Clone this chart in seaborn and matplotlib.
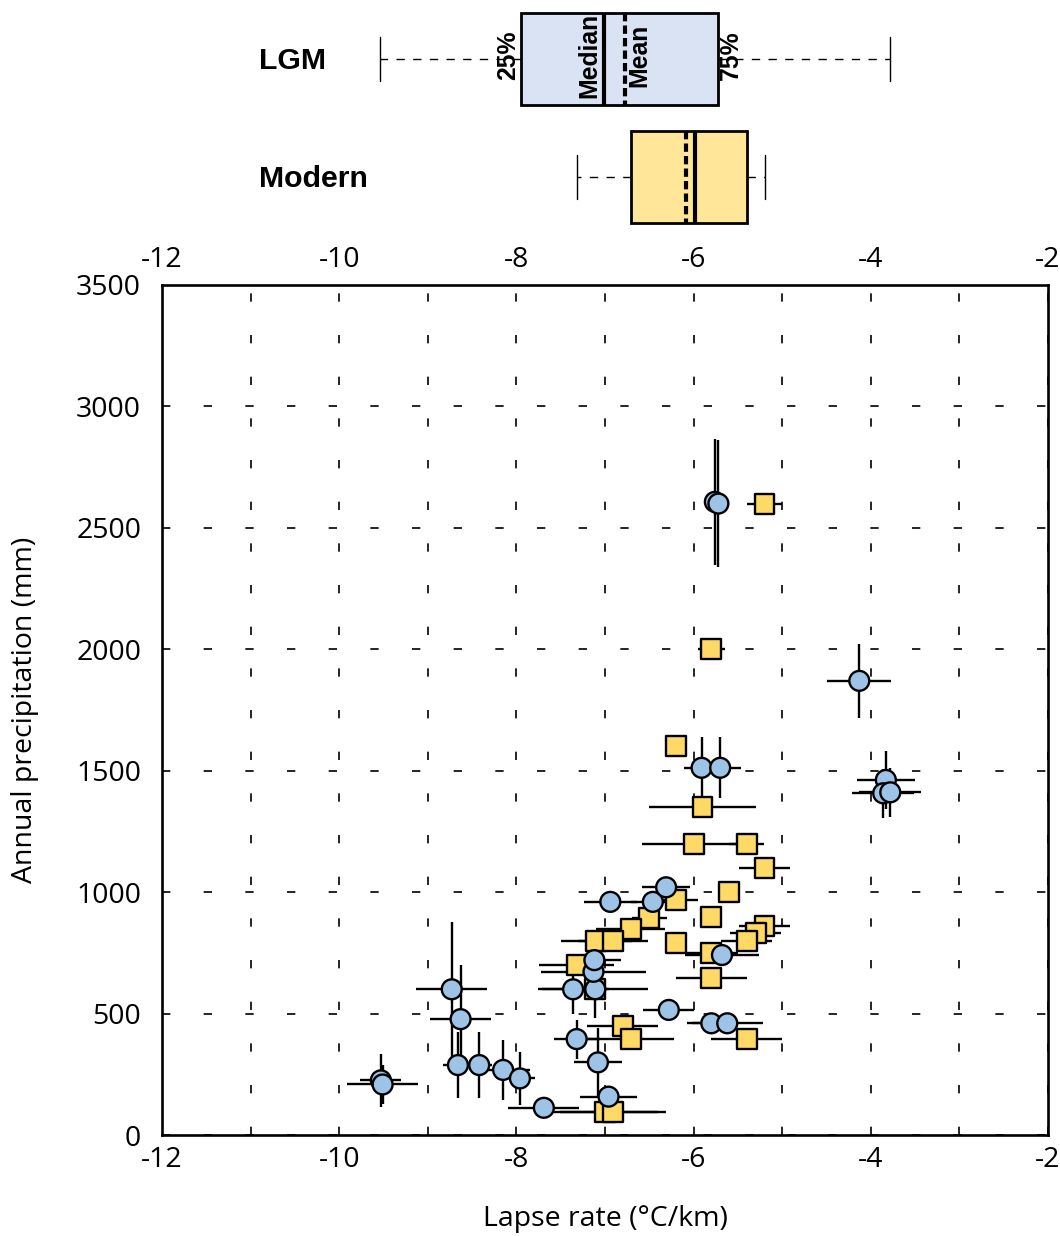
import numpy as np
import pandas as pd
import matplotlib
matplotlib.use('Agg')
import matplotlib.pyplot as plt
import seaborn as sns
from matplotlib import font_manager as fm

# ---------------- data ----------------
# LGM (blue circles)
lgm_lapse = [-9.53, -9.51, -8.73, -8.63, -8.66, -8.42, -8.15, -7.96, -7.69, -7.36,
             -7.11, -7.13, -7.12, -6.94, -6.46, -6.31, -7.32, -7.08, -6.96, -6.28,
             -5.80, -5.62, -5.68, -5.76, -5.72, -4.13, -5.91, -5.70, -3.83, -3.86, -3.78]
lgm_precip = [225, 208, 600, 477, 288, 288, 268, 233, 112, 600,
              600, 672, 720, 960, 960, 1020, 395, 299, 158, 515,
              460, 460, 741, 2607, 2600, 1870, 1512, 1512, 1462, 1407, 1411]
lgm_lapse_err = [0.23, 0.40, 0.40, 0.34, 0.17, 0.15, 0.30, 0.17, 0.40, 0.40,
                 0.60, 0.59, 0.30, 0.30, 0.25, 0.27, 0.26, 0.27, 0.32, 0.29,
                 0.28, 0.40, 0.42, 0.10, 0.06, 0.36, 0.20, 0.24, 0.33, 0.35, 0.35]
lgm_precip_err = [110, 80, 278, 225, 137, 137, 125, 110, 0, 100,
                  120, 0, 0, 0, 0, 0, 80, 140, 0, 0,
                  0, 0, 0, 260, 260, 153, 125, 125, 120, 100, 100]

# Modern (yellow squares)
mod_lapse = [-5.20, -5.80, -6.20, -5.90, -6.00, -5.40, -5.20, -5.60, -6.20, -5.80,
             -6.50, -6.71, -7.10, -6.91, -6.20, -5.20, -5.30, -5.40, -5.80, -7.32,
             -5.80, -7.11, -6.80, -6.71, -5.40, -7.00, -6.91]
mod_precip = [2600, 2000, 1601, 1349, 1198, 1198, 1098, 999, 967, 896,
              892, 848, 800, 800, 790, 860, 830, 800, 751, 700,
              645, 601, 449, 395, 395, 96, 96]
mod_lapse_err = [0.20, 0.15, 0.0, 0.60, 0.58, 0.20, 0.29, 0.0, 0.25, 0.0,
                 0.20, 0.39, 0.40, 0.40, 0.0, 0.29, 0.29, 0.29, 0.30, 0.42,
                 0.40, 0.0, 0.40, 0.49, 0.40, 0.60, 0.60]

# Box summary (lapse rate, degC/km)
box_labels = ['LGM', 'Modern']
box_whislo = [-9.54, -7.32]
box_q1 = [-7.95, -6.71]
box_med = [-7.01, -5.98]
box_mean = [-6.77, -6.09]
box_q3 = [-5.72, -5.40]
box_whishi = [-3.78, -5.19]
box_colors = ['#dae3f3', '#ffe699']

x_ticks = [-12, -10, -8, -6, -4, -2]
y_ticks = [0, 500, 1000, 1500, 2000, 2500, 3000, 3500]

# ---------------- style ----------------
sns.set_style('white')
plt.rcParams['font.family'] = ['Open Sans', 'DejaVu Sans']
for key in ['text.color', 'axes.labelcolor', 'xtick.color', 'ytick.color', 'axes.edgecolor']:
    plt.rcParams[key] = 'black'
names = {f.name for f in fm.fontManager.ttflist}
narrow = 'Liberation Sans Narrow' in names
bold_family = ['Liberation Sans Narrow', 'Liberation Sans', 'DejaVu Sans'] if narrow else ['Liberation Sans', 'DejaVu Sans']
k = 1.0 if narrow else 0.87

W, H = 1060, 1236
fig = plt.figure(figsize=(W / 100, H / 100), dpi=100)
ax = fig.add_axes([162 / W, 1 - 1135 / H, (1048 - 162) / W, (1135 - 285) / H])
axb = fig.add_axes([162 / W, 1 - 236 / H, (1048 - 162) / W, 236 / H])

# ---------------- main scatter ----------------
ax.errorbar(mod_lapse, mod_precip, xerr=mod_lapse_err, fmt='none',
            ecolor='black', elinewidth=1.7, capsize=0, zorder=2)
ax.errorbar(lgm_lapse, lgm_precip, xerr=lgm_lapse_err, yerr=lgm_precip_err, fmt='none',
            ecolor='black', elinewidth=1.7, capsize=0, zorder=2)

df = pd.concat([
    pd.DataFrame({'lapse': mod_lapse, 'precip': mod_precip, 'period': 'Modern'}),
    pd.DataFrame({'lapse': lgm_lapse, 'precip': lgm_precip, 'period': 'LGM'}),
], ignore_index=True)
sns.scatterplot(data=df, x='lapse', y='precip', hue='period', style='period',
                markers={'LGM': 'o', 'Modern': 's'},
                palette={'LGM': '#9dc3e6', 'Modern': '#ffd966'},
                s=205, edgecolor='black', linewidth=1.7, legend=False, zorder=3, ax=ax)

ax.set_xlim(-12, -2)
ax.set_ylim(0, 3500)
ax.set_xticks(x_ticks)
ax.set_xticks(np.arange(-12, -1, 1), minor=True)
ax.set_yticks(y_ticks)
ax.set_xticklabels([str(v) for v in x_ticks])
ax.set_yticklabels([str(v) for v in y_ticks])
ax.tick_params(axis='both', which='both', length=0, labelsize=20.5)
ax.tick_params(axis='y', pad=15)
ax.tick_params(axis='x', bottom=True, top=True, labelbottom=True, labeltop=True, pad=8)
ax.grid(True, axis='x', which='both', linestyle=(0, (5, 20)), linewidth=1.2, color='black')
ax.grid(True, axis='y', which='major', linestyle=(0, (5, 20)), linewidth=1.2, color='black')
for sp in ax.spines.values():
    sp.set_visible(True)
    sp.set_linewidth(1.9)
    sp.set_color('black')
ax.set_xlabel('Lapse rate (°C/km)', fontsize=20.5, labelpad=22)
ax.set_ylabel('Annual precipitation (mm)', fontsize=20.5, labelpad=27)

# ---------------- box panel ----------------
stats = []
for i in range(len(box_labels)):
    stats.append(dict(label=box_labels[i], whislo=box_whislo[i], q1=box_q1[i], med=box_med[i],
                      mean=box_mean[i], q3=box_q3[i], whishi=box_whishi[i], fliers=[]))
bp = axb.bxp(stats, positions=[0.5, 1.5], widths=0.78, orientation='horizontal',
             patch_artist=True, showmeans=True, meanline=True, showfliers=False,
             capwidths=0.38,
             boxprops=dict(edgecolor='black', linewidth=2.0),
             medianprops=dict(color='black', linewidth=3.0),
             meanprops=dict(color='black', linewidth=3.0, linestyle=(0, (2, 1))),
             whiskerprops=dict(color='black', linewidth=1.0, linestyle=(0, (6, 6))),
             capprops=dict(color='black', linewidth=1.0))
for patch, c in zip(bp['boxes'], box_colors):
    patch.set_facecolor(c)
axb.set_xlim(-12, -2)
axb.set_ylim(2, 0)
axb.axis('off')

axb.text(-10.9, 0.52, 'LGM', ha='left', va='center', fontsize=25 * k, fontweight='bold', family=bold_family)
axb.text(-10.9, 1.52, 'Modern', ha='left', va='center', fontsize=25 * k, fontweight='bold', family=bold_family)
lab_kw = dict(rotation=90, va='center', fontsize=20.5 * k, fontweight='bold', family=bold_family, zorder=5)
axb.text(box_q1[0] - 0.01, 0.47, '25%', ha='right', **lab_kw)
axb.text(box_med[0] - 0.03, 0.47, 'Median', ha='right', **lab_kw)
axb.text(box_mean[0] + 0.02, 0.47, 'Mean', ha='left', **lab_kw)
axb.text(box_q3[0] + 0.01, 0.47, '75%', ha='left', **lab_kw)

fig.savefig('out.png', dpi=100)
